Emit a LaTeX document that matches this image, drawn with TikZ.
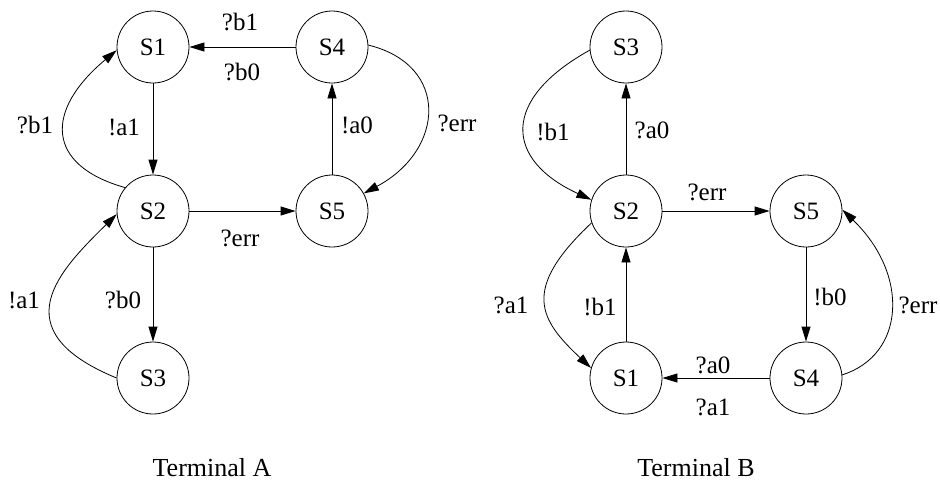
\documentclass[tikz,border=0pt]{standalone}
\usepackage{fontspec}
\setmainfont{Liberation Serif}
\usetikzlibrary{arrows.meta}
\begin{document}
\begin{tikzpicture}[x=1pt,y=-1pt,
  st/.style={circle,draw,line width=0.8pt,minimum size=72pt,inner sep=0pt,font=\fontsize{25}{29}\selectfont},
  lbl/.style={font=\fontsize{25}{29}\selectfont,inner sep=0pt},
  termlbl/.style={font=\fontsize{26}{30}\selectfont,inner sep=0pt},
  tr/.style={-{Triangle[length=15pt,width=9pt]},line width=0.8pt}]
\useasboundingbox (0,0) rectangle (940,483);
% Terminal A
\node[st] (a1) at (153,47) {S1};
\node[st] (a4) at (332,47) {S4};
\node[st] (a2) at (153,211) {S2};
\node[st] (a5) at (332,211) {S5};
\node[st] (a3) at (153,378) {S3};
\draw[tr] (a4) -- (a1);
\draw[tr] (a1) -- (a2);
\draw[tr] (a5) -- (a4);
\draw[tr] (a2) -- (a5);
\draw[tr] (a2) -- (a3);
\draw[tr] (a2.140) .. controls (45,165) and (45,110) .. (a1.185);
\draw[tr] (a3.180) .. controls (0,330) and (60,270) .. (a2.185);
\draw[tr] (a4.3) .. controls (450,65) and (445,150) .. (a5.29);
\node[lbl] (la1) at (240,22) {?b1};
\node[lbl] (la2) at (242,72) {?b0};
\node[lbl] (la3) at (124,127) {!a1};
\node[lbl] (la4) at (357,125) {!a0};
\node[lbl] (la5) at (240,238) {?err};
\node[lbl] (la6) at (123,300) {?b0};
\node[lbl] (la7) at (35,125) {?b1};
\node[lbl] (la8) at (24,300) {!a1};
\node[lbl] (la9) at (457,123) {?err};
\node[termlbl] (ta) at (212,468) {Terminal A};
% Terminal B
\node[st] (b3) at (626,47) {S3};
\node[st] (b2) at (626,211) {S2};
\node[st] (b5) at (806,211) {S5};
\node[st] (b1) at (626,378) {S1};
\node[st] (b4) at (806,378) {S4};
\draw[tr] (b2) -- (b3);
\draw[tr] (b2) -- (b5);
\draw[tr] (b1) -- (b2);
\draw[tr] (b5) -- (b4);
\draw[tr] (b4) -- (b1);
\draw[tr] (b3.185) .. controls (500,100) and (505,160) .. (b2.162);
\draw[tr] (b2.199) .. controls (520,290) and (540,320) .. (b1.164);
\draw[tr] (b4.5) .. controls (905,355) and (910,275) .. (b5.2);
\node[lbl] (lb1) at (652,130) {?a0};
\node[lbl] (lb2) at (707,192) {?err};
\node[lbl] (lb3) at (600,307) {!b1};
\node[lbl] (lb4) at (830,297) {!b0};
\node[lbl] (lb5) at (713,365) {?a0};
\node[lbl] (lb6) at (713,407) {?a1};
\node[lbl] (lb7) at (918,305) {?err};
\node[lbl] (lb8) at (553,132) {!b1};
\node[lbl] (lb9) at (511,305) {?a1};
\node[termlbl] (tb) at (696,468) {Terminal B};
\end{tikzpicture}
\end{document}
